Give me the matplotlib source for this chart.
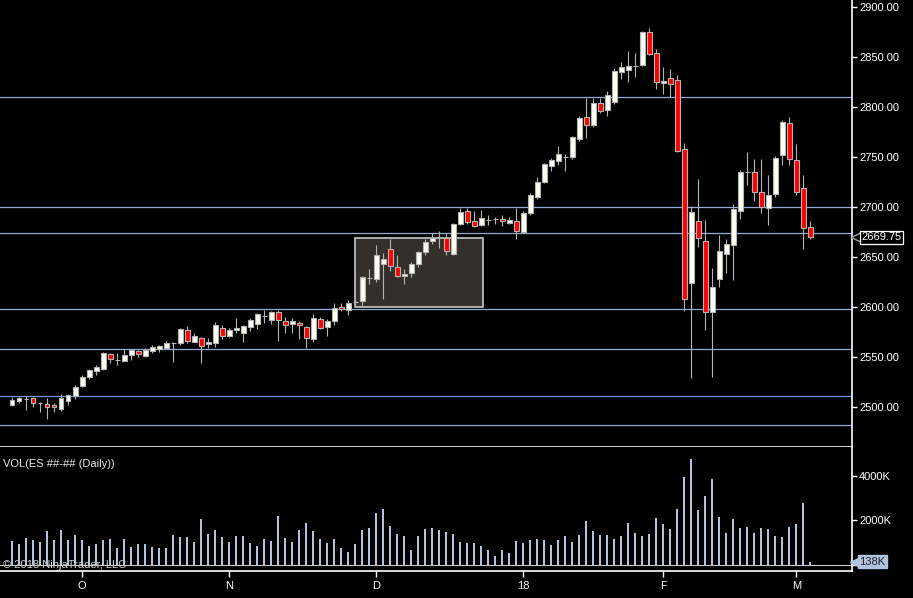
import numpy as np
import matplotlib
matplotlib.use('Agg')
import matplotlib.pyplot as plt
from matplotlib.patches import Rectangle
import matplotlib.transforms as mtransforms

# daily OHLC, one entry per trading day
opens = [2502.0, 2506.0, 2508.0, 2508.3, 2504.0, 2502.3, 2501.3, 2498.0, 2506.0, 2511.0,
         2521.0, 2530.0, 2536.0, 2538.1, 2552.8, 2547.1, 2546.1, 2552.1, 2555.8, 2551.1,
         2555.4, 2557.8, 2559.1, 2564.1, 2564.1, 2576.8, 2565.1, 2568.5, 2562.4, 2564.1,
         2578.8, 2571.2, 2576.5, 2574.2, 2580.2, 2583.2, 2591.2, 2587.2, 2594.6, 2585.6,
         2583.2, 2583.6, 2580.2, 2567.5, 2587.6, 2579.5, 2585.6, 2599.6, 2596.9, 2605.3,
         2605.6, 2628.7, 2628.3, 2643.3, 2657.7, 2639.7, 2631.0, 2633.7, 2642.7, 2655.4,
         2666.4, 2669.7, 2668.7, 2653.0, 2683.4, 2695.8, 2685.8, 2681.8, 2687.4, 2687.8,
         2687.8, 2684.4, 2685.8, 2675.4, 2694.5, 2710.5, 2725.2, 2741.5, 2746.5, 2750.6,
         2750.6, 2768.6, 2790.0, 2782.6, 2804.3, 2797.3, 2805.0, 2835.7, 2837.4, 2841.7,
         2842.7, 2875.1, 2854.1, 2824.0, 2829.0, 2827.0, 2757.9, 2624.3, 2685.7, 2665.7,
         2594.5, 2628.3, 2653.3, 2662.3, 2695.7, 2735.5, 2735.2, 2714.8, 2698.7, 2713.4,
         2751.9, 2783.9, 2746.8, 2718.8, 2679.7]
highs = [2509.3, 2510.0, 2510.7, 2510.0, 2504.5, 2509.0, 2504.0, 2512.7, 2512.7, 2521.4,
         2531.7, 2537.4, 2541.7, 2554.8, 2554.1, 2553.8, 2557.4, 2557.4, 2556.8, 2558.4,
         2561.4, 2561.4, 2565.8, 2565.1, 2578.5, 2580.8, 2573.5, 2570.1, 2568.5, 2584.5,
         2581.5, 2578.5, 2588.9, 2581.9, 2588.6, 2593.9, 2596.9, 2596.3, 2596.9, 2589.6,
         2588.9, 2585.6, 2580.9, 2592.6, 2589.6, 2587.6, 2603.6, 2603.6, 2606.9, 2607.6,
         2631.0, 2637.7, 2662.1, 2653.7, 2667.7, 2652.0, 2637.7, 2644.7, 2656.0, 2667.7,
         2673.7, 2676.1, 2673.7, 2684.4, 2698.8, 2698.8, 2696.1, 2697.1, 2692.1, 2690.4,
         2691.8, 2689.8, 2698.8, 2696.5, 2714.5, 2729.9, 2744.5, 2749.2, 2761.3, 2753.2,
         2771.3, 2791.0, 2809.7, 2809.3, 2809.3, 2816.7, 2839.7, 2845.1, 2856.4, 2854.1,
         2876.5, 2879.2, 2858.1, 2840.1, 2838.1, 2832.1, 2764.5, 2701.1, 2728.1, 2687.1,
         2638.6, 2672.0, 2667.7, 2703.1, 2737.2, 2755.5, 2748.2, 2748.2, 2732.2, 2751.2,
         2787.3, 2790.6, 2763.2, 2731.8, 2686.1]
lows = [2500.6, 2504.0, 2496.6, 2500.0, 2495.0, 2488.0, 2495.0, 2496.0, 2502.0, 2508.0,
        2520.0, 2528.0, 2532.0, 2536.7, 2544.1, 2542.1, 2546.0, 2546.7, 2549.4, 2550.1,
        2554.1, 2555.1, 2558.4, 2545.1, 2561.8, 2564.1, 2564.8, 2544.1, 2558.4, 2560.1,
        2568.1, 2570.2, 2574.2, 2565.2, 2576.2, 2578.2, 2584.2, 2583.2, 2566.2, 2574.2,
        2573.5, 2567.5, 2558.5, 2565.2, 2577.9, 2571.2, 2582.2, 2596.3, 2592.2, 2599.6,
        2600.9, 2623.0, 2625.3, 2607.9, 2636.3, 2629.7, 2623.0, 2629.7, 2640.3, 2652.0,
        2663.1, 2659.0, 2652.0, 2652.0, 2682.1, 2683.1, 2679.7, 2681.1, 2682.4, 2683.4,
        2681.4, 2683.4, 2668.4, 2673.7, 2692.4, 2708.5, 2723.8, 2736.5, 2742.5, 2736.5,
        2747.9, 2766.6, 2769.6, 2780.0, 2794.0, 2791.6, 2803.0, 2828.7, 2825.7, 2830.7,
        2841.7, 2852.1, 2818.4, 2813.4, 2810.0, 2755.6, 2596.2, 2529.1, 2660.3, 2576.8,
        2530.1, 2620.3, 2634.3, 2626.9, 2688.4, 2722.1, 2706.4, 2693.7, 2682.4, 2710.4,
        2742.5, 2742.5, 2712.4, 2658.3, 2668.4]
closes = [2506.7, 2508.7, 2508.0, 2504.0, 2504.0, 2500.0, 2499.3, 2508.7, 2511.3, 2519.7,
          2529.7, 2536.7, 2539.4, 2553.8, 2548.1, 2547.1, 2551.4, 2556.8, 2552.4, 2557.1,
          2559.8, 2560.8, 2564.1, 2564.1, 2577.8, 2566.1, 2570.8, 2561.1, 2564.8, 2581.8,
          2571.1, 2576.9, 2578.9, 2580.9, 2586.9, 2592.6, 2591.2, 2594.9, 2587.2, 2582.2,
          2585.6, 2581.6, 2568.5, 2588.6, 2579.2, 2585.6, 2599.3, 2597.6, 2604.3, 2605.3,
          2629.7, 2628.7, 2651.7, 2647.7, 2641.3, 2631.3, 2633.0, 2643.0, 2654.7, 2665.1,
          2668.7, 2669.7, 2656.4, 2683.1, 2694.8, 2684.8, 2681.4, 2688.8, 2687.4, 2687.8,
          2685.8, 2687.1, 2676.4, 2693.8, 2711.8, 2724.8, 2743.2, 2747.2, 2752.9, 2750.6,
          2770.3, 2789.3, 2782.6, 2804.3, 2796.7, 2812.0, 2836.1, 2840.1, 2841.1, 2841.7,
          2875.1, 2853.8, 2825.0, 2826.0, 2823.0, 2756.6, 2608.2, 2694.7, 2668.7, 2594.5,
          2619.6, 2655.7, 2662.7, 2697.7, 2735.2, 2735.5, 2714.8, 2699.7, 2711.8, 2748.9,
          2784.9, 2747.8, 2714.8, 2678.7, 2669.75]
# volume in thousands of contracts
volumes = [1084, 948, 1219, 1129, 1038, 1535, 1129, 1580, 1129, 1354,
           1129, 858, 948, 1129, 1174, 768, 1174, 813, 948, 948,
           813, 768, 768, 1354, 1264, 1264, 1038, 2077, 1400, 1580,
           1264, 1038, 1309, 1309, 993, 858, 1174, 1084, 2212, 1219,
           1038, 1580, 1896, 1535, 1174, 993, 1174, 768, 587, 948,
           1580, 1670, 2348, 2528, 1761, 1400, 1309, 677, 1309, 1625,
           1670, 1580, 1490, 1400, 1038, 993, 993, 858, 677, 406,
           677, 542, 1084, 993, 1129, 1174, 1129, 903, 1129, 1309,
           1038, 1354, 1987, 1535, 1354, 1354, 1174, 1309, 1896, 1445,
           1309, 1400, 2122, 1851, 1625, 2528, 3973, 4786, 2483, 3115,
           3883, 2167, 1445, 2077, 1670, 1716, 1445, 1670, 1625, 1309,
           1264, 1716, 1851, 2799, 138]

month_ticks = [10, 31, 52, 73, 93, 112]
month_labels = ['O', 'N', 'D', '18', 'F', 'M']
price_ticks = [2500, 2550, 2600, 2650, 2700, 2750, 2800, 2850, 2900]
vol_ticks = [0, 2000, 4000]
vol_labels = ['', '2000K', '4000K']  # the 0 label sits under the last-volume tag
h_levels = [2810.0, 2700.0, 2673.75, 2597.5, 2557.5, 2481.25]
blue_level = 2510.25
box_bars = (49.0, 67.2)
box_prices = (2600.25, 2668.75)

plt.rcParams['font.family'] = ['Liberation Sans', 'DejaVu Sans']
fg = 'white'
wick_col = '#b4b4b4'
vol_col = '#b0c4de'

fig = plt.figure(figsize=(9.13, 5.98), dpi=100, facecolor='black')
W, H = 913.0, 598.0
ax = fig.add_axes([0, (H - 447) / H, 852.3 / W, 447 / H], facecolor='black')
axv = fig.add_axes([0, (H - 571) / H, 852.3 / W, 124 / H], facecolor='black', sharex=ax)

n = len(closes)
idx = np.arange(n)
bw = 0.66

# highlighted zone
ax.add_patch(Rectangle((box_bars[0], box_prices[0]), box_bars[1] - box_bars[0],
                       box_prices[1] - box_prices[0], facecolor='#342f2a',
                       edgecolor='#c8c8c8', linewidth=1.2, zorder=1))

for lv in h_levels:
    ax.axhline(lv, color='#95a9d6', linewidth=0.9, zorder=1.5)
ax.axhline(blue_level, color='#6e94e6', linewidth=0.9, zorder=1.5)

for i in idx:
    o, h, l, c = opens[i], highs[i], lows[i], closes[i]
    ax.vlines(i, l, h, color=wick_col, linewidth=0.8, zorder=2)
    fc = '#fffff4' if c >= o else '#ff0000'
    ax.add_patch(Rectangle((i - bw / 2, min(o, c)), bw, abs(c - o),
                           facecolor=fc, edgecolor=wick_col, linewidth=0.8, zorder=3))

ax.set_xlim(-1.74, 120.0)
ax.set_ylim(2459.6, 2907.5)

for a in (ax, axv):
    for s in ('left', 'top'):
        a.spines[s].set_visible(False)
    a.spines['right'].set_color(fg)
    a.spines['bottom'].set_color(fg)
    a.spines['right'].set_linewidth(1.2)
    a.spines['bottom'].set_linewidth(1.2)
    a.yaxis.tick_right()
    a.tick_params(axis='y', colors=fg, labelcolor=fg, length=3.5, width=1,
                  labelsize=8, pad=1.5)

ax.set_yticks(price_ticks)
ax.set_yticklabels(['%.2f' % p for p in price_ticks])
ax.tick_params(axis='x', bottom=False, labelbottom=False)

# last price tag
last = closes[-1]
ax.plot([1.0], [last], marker='<', markersize=7, markerfacecolor='black',
        markeredgecolor='#a0a0a0', transform=mtransforms.offset_copy(
            ax.get_yaxis_transform(), fig=fig, x=4, y=0, units='dots'),
        clip_on=False, zorder=6)
ax.annotate('%.2f' % last, xy=(1.0, last), xycoords=('axes fraction', 'data'),
            xytext=(9, 0), textcoords='offset pixels', ha='left', va='center',
            color=fg, fontsize=8, annotation_clip=False, zorder=7,
            bbox=dict(boxstyle='square,pad=0.15', facecolor='black', edgecolor=fg, linewidth=0.9))

# volume panel
axv.bar(idx, volumes, width=0.3, color=vol_col, zorder=2)
axv.set_ylim(-289, 5309)
axv.set_yticks(vol_ticks)
axv.set_yticklabels(vol_labels)
axv.set_xticks(month_ticks)
axv.set_xticklabels(month_labels)
axv.tick_params(axis='x', colors=fg, labelcolor=fg, length=4, width=1,
                labelsize=8, pad=3)
axv.axhline(0, color='#c8c8c8', linewidth=0.8, zorder=1)

lastv = volumes[-1]
axv.plot([1.0], [lastv], marker='<', markersize=7, markerfacecolor=vol_col,
         markeredgecolor=vol_col, transform=mtransforms.offset_copy(
             axv.get_yaxis_transform(), fig=fig, x=3, y=0, units='dots'),
         clip_on=False, zorder=6)
axv.annotate('%dK' % lastv, xy=(1.0, lastv), xycoords=('axes fraction', 'data'),
             xytext=(7, 0), textcoords='offset pixels', ha='left', va='center',
             color='#202030', fontsize=8, annotation_clip=False, zorder=7,
             bbox=dict(boxstyle='square,pad=0.15', facecolor=vol_col, edgecolor=vol_col))

axv.text(0.004, 0.86, 'VOL(ES ##-## (Daily))', transform=axv.transAxes,
         color='#e8e8e8', fontsize=8, ha='left', va='center')
axv.text(0.004, 0.05, '\u00a9 2018 NinjaTrader, LLC', transform=axv.transAxes,
         color='#d0d0d0', fontsize=8, ha='left', va='center', zorder=4)

fig.savefig('out.png', dpi=100, facecolor='black')
